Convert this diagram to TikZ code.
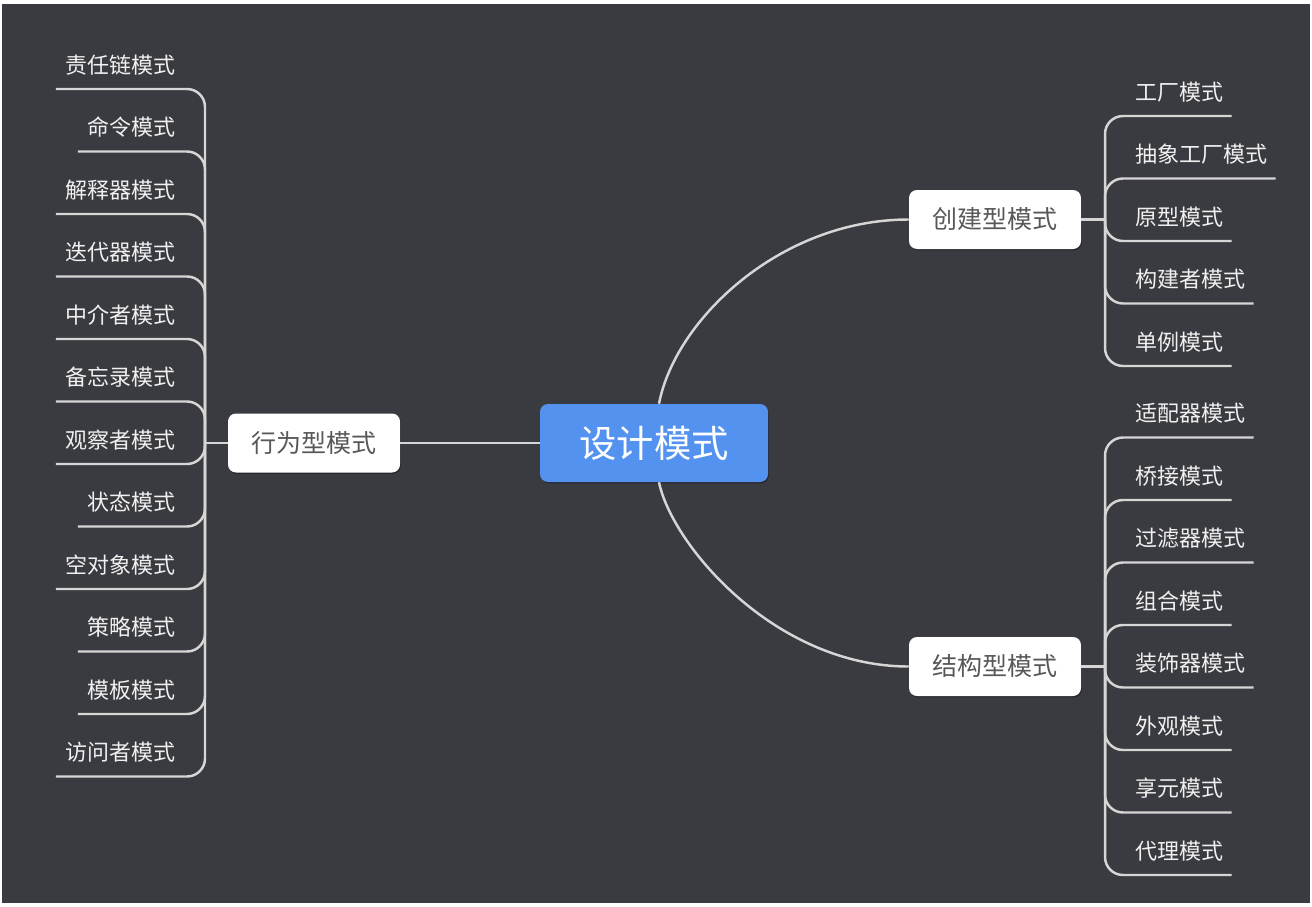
\documentclass[tikz,border=0pt]{standalone}
\usepackage{fontspec}
\newfontfamily\cjk{Noto Sans CJK SC}
\usetikzlibrary{shadows}

\definecolor{bg}{RGB}{58,59,64}
\definecolor{wire}{RGB}{214,214,214}
\definecolor{rootblue}{RGB}{84,146,240}
\definecolor{leaftext}{RGB}{240,240,240}
\definecolor{branchtext}{RGB}{88,88,88}

\begin{document}
\begin{tikzpicture}[x=0.75pt,y=-0.75pt,
  wire/.style={draw=wire, line width=1.85pt},
  rootbox/.style={fill=rootblue, rounded corners=6pt, minimum width=171pt,
    minimum height=58.5pt, inner sep=0pt, text=white,
    font=\cjk\fontsize{28}{30}\selectfont,
    drop shadow={shadow xshift=0.6pt, shadow yshift=-1pt, opacity=0.35, fill=black}},
  branchbox/.style={fill=white, rounded corners=6pt, minimum width=129pt,
    minimum height=44.25pt, inner sep=0pt, text=branchtext,
    font=\cjk\fontsize{18.75}{20}\selectfont,
    drop shadow={shadow xshift=0.6pt, shadow yshift=-1pt, opacity=0.35, fill=black}},
  leafbase/.style={inner ysep=0pt, text depth=11.7pt, text height=14pt,
    text=leaftext, font=\cjk\fontsize{16.5}{18}\selectfont},
  leafL/.style={leafbase, anchor=south east, inner xsep=6.75pt},
  leafR/.style={leafbase, anchor=south west, inner xsep=6pt},
  leafwire/.style={wire, rounded corners=13.5pt}
]
% canvas
\fill[white] (0,0) rectangle (1312,906);
\fill[bg] (2,4) rectangle (1310,903);

% main topics
\node[rootbox]   (root) at (654,443)   {设计模式};
\node[branchbox] (beh)  at (314,443)   {行为型模式};
\node[branchbox] (cre)  at (995,219.5) {创建型模式};
\node[branchbox] (str)  at (995,666.5) {结构型模式};

% root to main topics
\draw[wire] (root.west) -- (beh.east);
\draw[wire] ([xshift=3.75pt]root.north) .. controls (675,320) and (780,219.5) .. (cre.west);
\draw[wire] ([xshift=3.75pt]root.south) .. controls (672,545) and (775,666.5) .. (str.west);

% junction points of the brackets
\coordinate (jb) at (205,443);
\coordinate (jc) at (1105,219.5);
\coordinate (js) at (1105,666.5);
\draw[wire] (beh.west) -- (jb);
\draw[wire] (cre.east) -- (jc);
\draw[wire] (str.east) -- (js);

% behavioural patterns
\foreach \t [count=\i] in {责任链模式,命令模式,解释器模式,迭代器模式,中介者模式,备忘录模式,
  观察者模式,状态模式,空对象模式,策略模式,模板模式,访问者模式}{
  \pgfmathsetmacro\ly{89+62.5*(\i-1)}
  \node[leafL] (b\i) at (184.5,\ly) {\t};
  \draw[leafwire] (jb) -- (jb |- b\i.south) -- (b\i.south west);
}

% creational patterns
\foreach \t [count=\i] in {工厂模式,抽象工厂模式,原型模式,构建者模式,单例模式}{
  \pgfmathsetmacro\ly{116+62.5*(\i-1)}
  \node[leafR] (c\i) at (1127,\ly) {\t};
  \draw[leafwire] (jc) -- (jc |- c\i.south) -- (c\i.south east);
}

% structural patterns
\foreach \t [count=\i] in {适配器模式,桥接模式,过滤器模式,组合模式,装饰器模式,外观模式,
  享元模式,代理模式}{
  \pgfmathsetmacro\ly{437.5+62.5*(\i-1)}
  \node[leafR] (s\i) at (1127,\ly) {\t};
  \draw[leafwire] (js) -- (js |- s\i.south) -- (s\i.south east);
}
\end{tikzpicture}
\end{document}
